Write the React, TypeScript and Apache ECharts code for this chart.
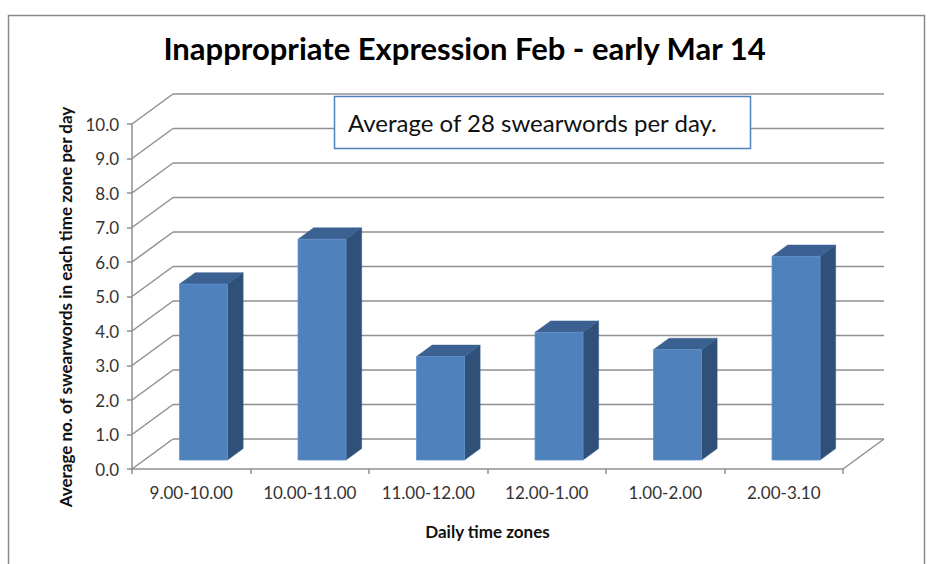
import React, { useEffect, useRef } from "react";
import * as echarts from "echarts";

const categories = ["9.00-10.00", "10.00-11.00", "11.00-12.00", "12.00-1.00", "1.00-2.00", "2.00-3.10"];
const values = [5.1, 6.4, 3.0, 3.7, 3.2, 5.9];
const yTicks = [0, 1, 2, 3, 4, 5, 6, 7, 8, 9, 10];
const titleText = "Inappropriate Expression Feb - early Mar 14";
const noteText = "Average of 28 swearwords per day.";
const yName = "Average no. of swearwords in each time zone per day";
const xName = "Daily time zones";

const DX = 41;
const DY = -30;
const F0 = 0.3;
const F1 = 0.68;
const BAR_RATIO = 0.405;
const GRID_COLOR = "#8f8f8f";
const FONT = "Lato, 'Open Sans', sans-serif";

export default function App() {
  const ref = useRef<HTMLDivElement>(null);
  useEffect(() => {
    if (!ref.current) return;
    const chart = echarts.init(ref.current, null, { renderer: "svg" });
    const option: any = {
      animation: false,
      backgroundColor: "#ffffff",
      title: {
        text: titleText,
        left: "center",
        top: 27,
        textStyle: { fontFamily: FONT, fontWeight: "bold", fontSize: 31, color: "#000" },
      },
      grid: { left: 132, right: 86, top: 124, bottom: 95, containLabel: false },
      xAxis: {
        type: "category",
        data: categories,
        boundaryGap: true,
        name: xName,
        nameLocation: "middle",
        nameGap: 54,
        nameTextStyle: { fontFamily: FONT, fontWeight: "bold", fontSize: 17, color: "#111" },
        axisLine: { show: true, lineStyle: { color: GRID_COLOR, width: 1.5 } },
        axisTick: { show: true, interval: 0, alignWithLabel: false, length: 5, lineStyle: { color: GRID_COLOR, width: 1.5 } },
        axisLabel: { interval: 0, hideOverlap: false, margin: 15, fontFamily: FONT, fontSize: 17, color: "#333" },
        splitLine: { show: false },
      },
      yAxis: {
        type: "value",
        min: 0,
        max: 10,
        interval: 1,
        axisLine: { show: true, lineStyle: { color: GRID_COLOR, width: 1.5 } },
        axisTick: { show: true, length: 5, lineStyle: { color: GRID_COLOR, width: 1.5 } },
        axisLabel: { margin: 13, fontFamily: FONT, fontSize: 17, color: "#333", formatter: (v: number) => v.toFixed(1) },
        splitLine: { show: false },
      },
      graphic: [
        {
          type: "rect",
          z: 0,
          shape: { x: 8.5, y: 15.5, width: 916, height: 560 },
          style: { fill: "none", stroke: "#8a8a8a", lineWidth: 1.5 },
          silent: true,
        },
        {
          type: "text",
          z: 10,
          x: 65,
          y: 307,
          rotation: Math.PI / 2,
          style: {
            text: yName,
            fontFamily: FONT,
            fontWeight: "bold",
            fontSize: 17,
            fill: "#111",
            textAlign: "center",
            verticalAlign: "middle",
          },
        },
        {
          type: "rect",
          z: 100,
          shape: { x: 334.5, y: 96.5, width: 416, height: 52 },
          style: { fill: "#ffffff", stroke: "#4F81BD", lineWidth: 1.5 },
        },
        {
          type: "text",
          z: 101,
          x: 348,
          y: 122,
          style: {
            text: noteText,
            fontFamily: FONT,
            fontSize: 24,
            fill: "#111",
            verticalAlign: "middle",
            textAlign: "left",
          },
        },
      ],
      series: [
        {
          type: "custom",
          name: "walls",
          z: 1,
          clip: false,
          silent: true,
          data: yTicks.map((v) => [0, v]),
          encode: { x: 0, y: 1 },
          renderItem: (params: any, api: any) => {
            const cs = params.coordSys;
            const v = api.value(1);
            const y = api.coord([0, v])[1];
            const x0 = cs.x;
            const x1 = cs.x + cs.width;
            const ls = { stroke: GRID_COLOR, lineWidth: 1.5 };
            const children: any[] = [
              { type: "line", shape: { x1: x0, y1: y, x2: x0 + DX, y2: y + DY }, style: ls },
              { type: "line", shape: { x1: x0 + DX, y1: y + DY, x2: x1 + DX, y2: y + DY }, style: ls },
            ];
            if (v === 0) {
              children.push({ type: "line", shape: { x1: x1, y1: y, x2: x1 + DX, y2: y + DY }, style: ls });
            }
            return { type: "group", children };
          },
        },
        {
          type: "custom",
          name: "bars",
          z: 3,
          clip: false,
          data: values.map((v, i) => [i, v]),
          encode: { x: 0, y: 1 },
          renderItem: (params: any, api: any) => {
            const idx = api.value(0);
            const v = api.value(1);
            const base = api.coord([idx, 0]);
            const top = api.coord([idx, v]);
            const bw = api.size([1, 0])[0] * BAR_RATIO;
            const d = F1 - F0;
            const x0 = base[0] - bw / 2 + F0 * DX;
            const yb = base[1] + F0 * DY;
            const yt = top[1] + F0 * DY;
            const x1 = x0 + bw;
            const ddx = d * DX;
            const ddy = d * DY;
            return {
              type: "group",
              children: [
                {
                  type: "polygon",
                  shape: { points: [[x1, yt], [x1 + ddx, yt + ddy], [x1 + ddx, yb + ddy], [x1, yb]] },
                  style: { fill: "#2F5179", stroke: "#2F5179", lineWidth: 0.5 },
                },
                {
                  type: "polygon",
                  shape: { points: [[x0, yt], [x1, yt], [x1 + ddx, yt + ddy], [x0 + ddx, yt + ddy]] },
                  style: { fill: "#3A6191", stroke: "#3A6191", lineWidth: 0.5 },
                },
                {
                  type: "rect",
                  shape: { x: x0, y: yt, width: bw, height: yb - yt },
                  style: { fill: "#4F81BD", stroke: "#5F8FCA", lineWidth: 0.8 },
                },
              ],
            };
          },
        },
      ],
    };
    chart.setOption(option);
    return () => chart.dispose();
  }, []);
  return (
    <div
      ref={ref}
      style={{ position: "absolute", left: 0, top: 0, width: 929, height: 564, background: "#fff" }}
    />
  );
}
